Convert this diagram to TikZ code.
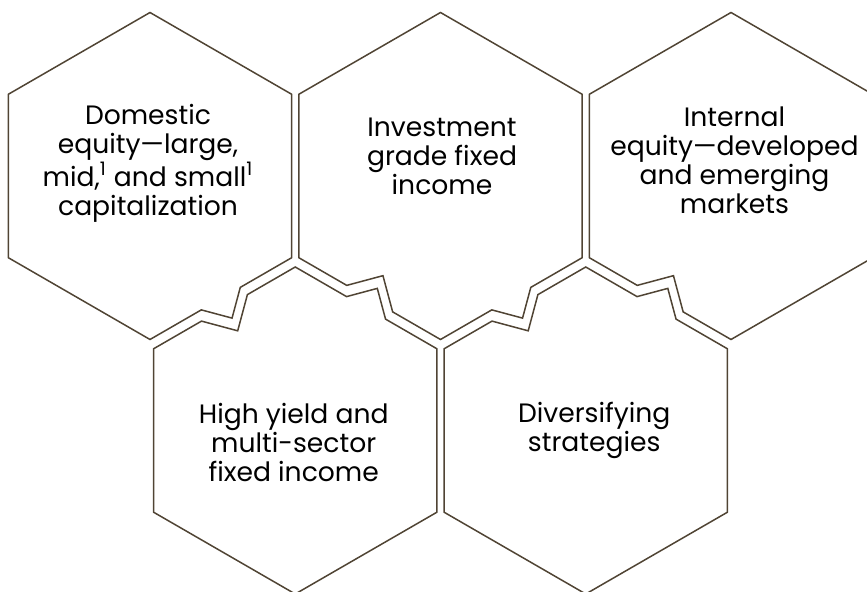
\documentclass[tikz,border=0pt]{standalone}
\usepackage{fontspec}
\setmainfont{Poppins}
\usetikzlibrary{calc}
\definecolor{hexbrown}{RGB}{80,68,52}
\tikzset{
    hexa/.style={draw=hexbrown, line width=0.75pt, line join=miter},
    lbl/.style={align=center, inner sep=0pt, text=black,
      font=\fontsize{13.3}{14.5}\selectfont},
  }
% sizes of a cell (one unit = one pixel of the drawing)
\newcommand{\hexR}{163.5}   % corner radius
\newcommand{\hexW}{141.6}   % centre to side
\newcommand{\bumpW}{22.5}   % half width of a tooth
\newcommand{\dentW}{26.5}   % half width of a notch
% corner of cell #1 at angle #2
\newcommand{\hc}[2]{($(#1)+(#2:\hexR)$)}
% side of cell #1 with normal #2, tooth out / notch in
\newcommand{\hexbump}[2]{-- ($(#1)+(#2:\hexW)+(#2-90:\bumpW)$) -- ($(#1)+(#2:\hexW+\bumpW)$) -- ($(#1)+(#2:\hexW)+(#2+90:\bumpW)$)}
\newcommand{\hexdent}[2]{-- ($(#1)+(#2:\hexW)+(#2-90:\dentW)$) -- ($(#1)+(#2:\hexW-\dentW)$) -- ($(#1)+(#2:\hexW)+(#2+90:\dentW)$)}

\begin{document}
\begin{tikzpicture}[x=0.5pt,y=0.5pt]
  \useasboundingbox (0,0) rectangle (867,-592);
  \clip (0,0) rectangle (867,-592);
  % centres of the cells
  \coordinate (dom) at (150,-176);
  \coordinate (ig) at (440.5,-176);
  \coordinate (intl) at (731,-176);
  \coordinate (hy) at (295.25,-430.5);
  \coordinate (div) at (585.75,-430.5);
  % cells, counter-clockwise from the upper right corner
  \draw[hexa] \hc{dom}{30} -- \hc{dom}{90} -- \hc{dom}{150} -- \hc{dom}{210} -- \hc{dom}{270} \hexbump{dom}{300} -- \hc{dom}{330} -- cycle;
  \draw[hexa] \hc{ig}{30} -- \hc{ig}{90} -- \hc{ig}{150} -- \hc{ig}{210} \hexdent{ig}{240} -- \hc{ig}{270} \hexbump{ig}{300} -- \hc{ig}{330} -- cycle;
  \draw[hexa] \hc{intl}{30} -- \hc{intl}{90} -- \hc{intl}{150} -- \hc{intl}{210} \hexdent{intl}{240} -- \hc{intl}{270} -- \hc{intl}{330} -- cycle;
  \draw[hexa] \hc{hy}{30} \hexbump{hy}{60} -- \hc{hy}{90} \hexdent{hy}{120} -- \hc{hy}{150} -- \hc{hy}{210} -- \hc{hy}{270} -- \hc{hy}{330} -- cycle;
  \draw[hexa] \hc{div}{30} \hexbump{div}{60} -- \hc{div}{90} \hexdent{div}{120} -- \hc{div}{150} -- \hc{div}{210} -- \hc{div}{270} -- \hc{div}{330} -- cycle;
  % labels
  \node[lbl] (domL) at (148,-163) {Domestic\\equity---large,\\mid,\textsuperscript{1} and small\textsuperscript{1}\\capitalization};
  \node[lbl] (igL) at (442,-156) {Investment\\grade fixed\\income};
  \node[lbl] (intlL) at (734.5,-160.7) {Internal\\equity---developed\\and emerging\\markets};
  \node[lbl] (hyL) at (293.7,-442.6) {High yield and\\multi-sector\\fixed income};
  \node[lbl] (divL) at (594.2,-430) {Diversifying\\strategies};
\end{tikzpicture}
\end{document}
